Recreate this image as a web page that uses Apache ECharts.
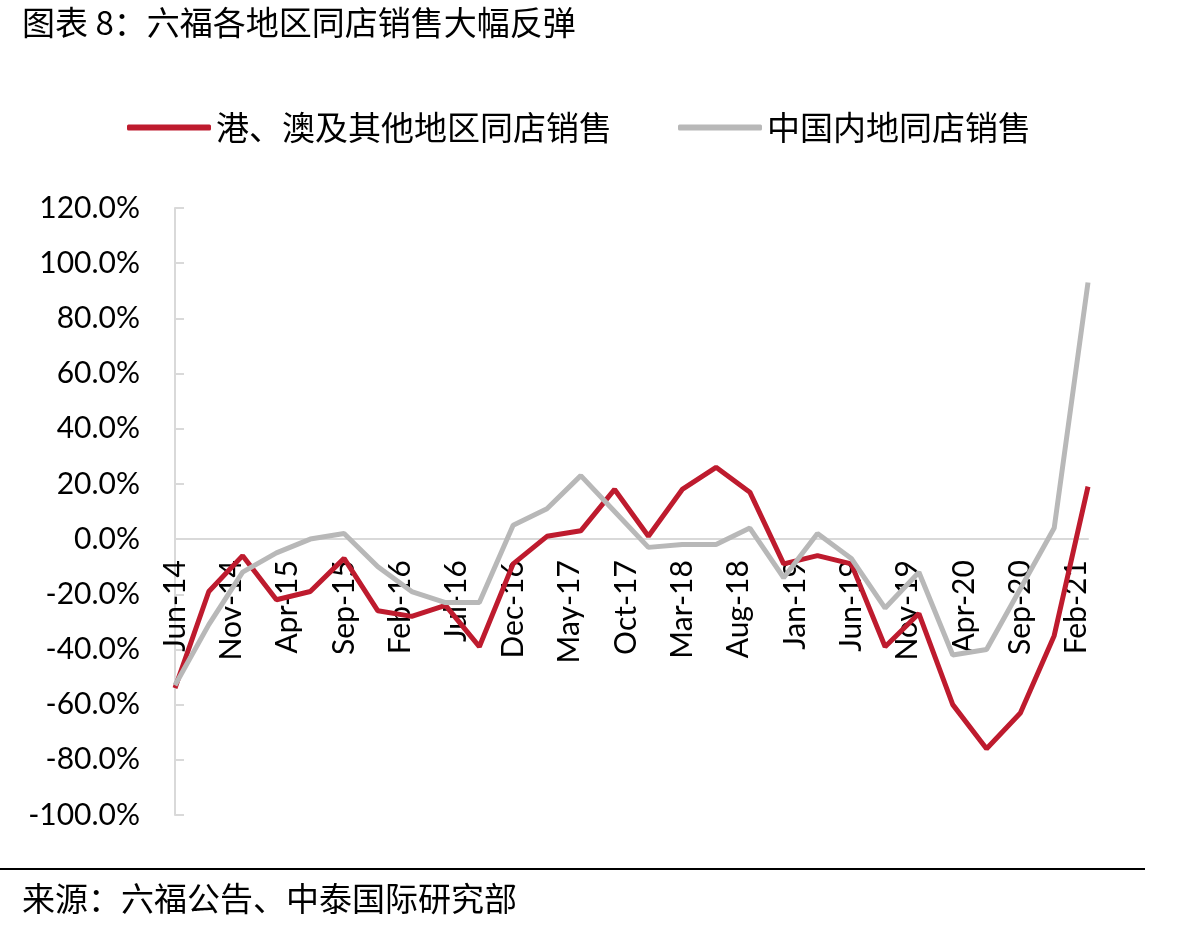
<!DOCTYPE html>
<html>
<head>
<meta charset="utf-8">
<script src="https://cdn.jsdelivr.net/npm/echarts@6/dist/echarts.min.js"></script>
<style>
    html, body { margin: 0; padding: 0; background: #fff; }
    #chart { width: 1191px; height: 927px; }
</style>
</head>
<body>
<div id="chart"></div>
<script>
// 季度末数据点（同店销售同比，%）
const quarters = ['Jun-14', 'Sep-14', 'Dec-14', 'Mar-15', 'Jun-15', 'Sep-15', 'Dec-15', 'Mar-16',
    'Jun-16', 'Sep-16', 'Dec-16', 'Mar-17', 'Jun-17', 'Sep-17', 'Dec-17', 'Mar-18', 'Jun-18',
    'Sep-18', 'Dec-18', 'Mar-19', 'Jun-19', 'Sep-19', 'Dec-19', 'Mar-20', 'Jun-20', 'Sep-20',
    'Dec-20', 'Mar-21'];
const hkMacauSSS = [-54, -19, -6, -22, -19, -7, -26, -28, -24, -39, -9, 1, 3, 18, 1, 18, 26, 17,
    -9, -6, -9, -39, -27, -60, -76, -63, -35, 19];
const mainlandSSS = [-53, -31, -12, -5, 0, 2, -10, -19, -23, -23, 5, 11, 23, 10, -3, -2, -2, 4,
    -14, 2, -7, -25, -12, -42, -40, -18, 4, 93];
const seriesNames = ['港、澳及其他地区同店销售', '中国内地同店销售'];

// 月度分类轴 Jun-14 ~ Mar-21
const monthNames = ['Jan', 'Feb', 'Mar', 'Apr', 'May', 'Jun', 'Jul', 'Aug', 'Sep', 'Oct', 'Nov', 'Dec'];
const months = [];
for (let y = 14; y <= 21; y++) {
    for (let m = 0; m < 12; m++) {
        if (y === 14 && m < 5) continue;
        if (y === 21 && m > 2) continue;
        months.push(monthNames[m] + '-' + y);
    }
}

const cjkFont = '"Noto Sans CJK SC", sans-serif';
const numFont = 'Lato, "Open Sans", sans-serif';

const gridTop = 208;
const gridBottom = 112;
const yMin = -100;
const yMax = 120;
// x 轴放在 0% 位置
const plotH = 927 - gridTop - gridBottom;
const zeroOffset = -plotH * (0 - yMin) / (yMax - yMin);

const chart = echarts.init(document.getElementById('chart'));
chart.setOption({
    animation: false,
    backgroundColor: '#fff',
    color: ['#BE1B2E', '#B8B8B8'],
    legend: {
        left: 122,
        top: 106,
        itemWidth: 84,
        itemHeight: 6,
        itemGap: 66,
        icon: 'roundRect',
        textStyle: { fontFamily: cjkFont, fontSize: 33, color: '#000' },
        data: seriesNames
    },
    grid: {
        left: 175,
        right: 103,
        top: gridTop,
        bottom: gridBottom,
        outerBoundsMode: 'none'
    },
    xAxis: {
        type: 'category',
        data: months,
        boundaryGap: false,
        offset: zeroOffset,
        axisLine: { onZero: false, lineStyle: { color: '#D9D9D9', width: 2 } },
        axisTick: { show: false },
        axisLabel: {
            interval: 4,
            rotate: 90,
            margin: 21,
            fontFamily: numFont,
            fontSize: 30,
            color: '#000'
        },
        splitLine: { show: false }
    },
    yAxis: {
        type: 'value',
        min: yMin,
        max: yMax,
        interval: 20,
        axisLine: { show: true, lineStyle: { color: '#D9D9D9', width: 2 } },
        axisTick: { show: true, inside: true, length: 9, lineStyle: { color: '#D9D9D9', width: 2 } },
        axisLabel: {
            margin: 35,
            fontFamily: numFont,
            fontSize: 30,
            color: '#000',
            formatter: v => v.toFixed(1) + '%'
        },
        splitLine: { show: false }
    },
    series: [
        {
            name: seriesNames[0],
            type: 'line',
            symbol: 'none',
            lineStyle: { width: 5 },
            data: quarters.map((q, i) => [q, hkMacauSSS[i]])
        },
        {
            name: seriesNames[1],
            type: 'line',
            symbol: 'none',
            lineStyle: { width: 5 },
            data: quarters.map((q, i) => [q, mainlandSSS[i]])
        }
    ],
    graphic: [
        {
            type: 'text',
            left: 22,
            top: 6,
            style: { text: '图表 8：六福各地区同店销售大幅反弹', font: '33px ' + cjkFont, fill: '#000' }
        },
        {
            type: 'line',
            shape: { x1: 0, y1: 869, x2: 1145, y2: 869 },
            style: { stroke: '#000', lineWidth: 2 }
        },
        {
            type: 'text',
            left: 22,
            top: 882,
            style: { text: '来源：六福公告、中泰国际研究部', font: '33px ' + cjkFont, fill: '#000' }
        }
    ]
});
</script>
</body>
</html>
